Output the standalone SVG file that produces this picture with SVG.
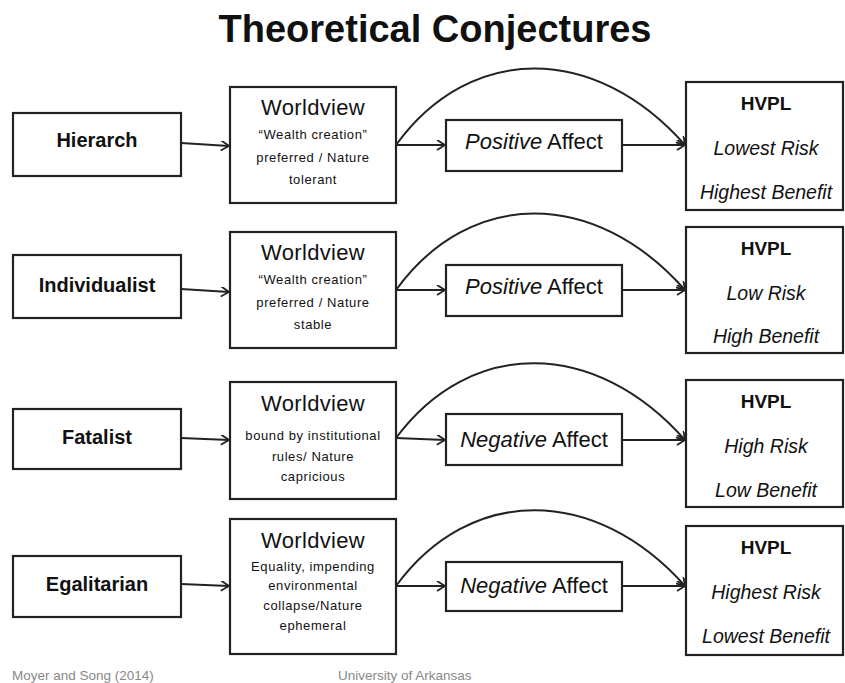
<svg xmlns="http://www.w3.org/2000/svg" width="845" height="683" viewBox="0 0 845 683">
<defs>
<marker id="ah" markerWidth="12" markerHeight="12" refX="10" refY="5" orient="auto" markerUnits="userSpaceOnUse">
<path d="M2,0 L10,5 L2,10" fill="none" stroke="#222" stroke-width="1.8"/>
</marker>
<style>
.box{fill:#fff;stroke:#222;stroke-width:2.2}
.con{fill:none;stroke:#222;stroke-width:2;marker-end:url(#ah)}
text{font-family:"Liberation Sans",Arial,sans-serif;fill:#111;text-anchor:middle}
.lab{font-size:20px;font-weight:bold}
.wv{font-size:22px;letter-spacing:0.3px}
.sub{font-size:13px;letter-spacing:0.6px}
.aff{font-size:22px}
.h{font-size:19px;font-weight:bold}
.hi{font-size:19.5px;font-style:italic}
.foot{font-size:13.5px;fill:#888;text-anchor:start}
</style>
</defs>
<rect width="845" height="683" fill="#fff"/>
<text x="435" y="42" style="font-size:38px;font-weight:bold">Theoretical Conjectures</text>

<g id="connectors">
<path class="con" d="M181,143 L229,146"/>
<path class="con" d="M396,145 L445,145"/>
<path class="con" d="M622,145 L685,145"/>
<path class="con" d="M396,145 C470,43 595,43 685,145"/>

<path class="con" d="M181,289 L229,292"/>
<path class="con" d="M396,290 L445,290"/>
<path class="con" d="M622,290 L685,290"/>
<path class="con" d="M396,290 C470,188 595,188 685,290"/>

<path class="con" d="M181,438 L229,440"/>
<path class="con" d="M396,438 L445,440"/>
<path class="con" d="M622,440 L685,440"/>
<path class="con" d="M396,438 C470,338 595,338 685,440"/>

<path class="con" d="M181,584 L229,586"/>
<path class="con" d="M396,586 L445,586"/>
<path class="con" d="M622,586 L685,586"/>
<path class="con" d="M396,586 C470,485 595,485 685,586"/>
</g>

<g id="hierarch"><rect class="box" x="13" y="113" width="168" height="63"/><text class="lab" x="97" y="147">Hierarch</text></g>
<g id="wv1"><rect class="box" x="230" y="87" width="166" height="116"/>
<text class="wv" x="313" y="115">Worldview</text>
<text class="sub" x="313" y="139">“Wealth creation”</text>
<text class="sub" x="313" y="162">preferred / Nature</text>
<text class="sub" x="313" y="184">tolerant</text></g>
<g id="aff1"><rect class="box" x="446" y="120" width="176" height="51"/><text class="aff" x="534" y="149"><tspan font-style="italic">Positive</tspan> Affect</text></g>
<g id="hvpl1"><rect class="box" x="686" y="82" width="157" height="128"/>
<text class="h" x="766" y="110">HVPL</text><text class="hi" x="766" y="155">Lowest Risk</text><text class="hi" x="766" y="199">Highest Benefit</text></g>

<g id="individualist"><rect class="box" x="13" y="255" width="168" height="63"/><text class="lab" x="97" y="292">Individualist</text></g>
<g id="wv2"><rect class="box" x="230" y="232" width="166" height="116"/>
<text class="wv" x="313" y="260">Worldview</text>
<text class="sub" x="313" y="284">“Wealth creation”</text>
<text class="sub" x="313" y="307">preferred / Nature</text>
<text class="sub" x="313" y="329">stable</text></g>
<g id="aff2"><rect class="box" x="446" y="265" width="176" height="51"/><text class="aff" x="534" y="294"><tspan font-style="italic">Positive</tspan> Affect</text></g>
<g id="hvpl2"><rect class="box" x="686" y="227" width="157" height="126"/>
<text class="h" x="766" y="255">HVPL</text><text class="hi" x="766" y="300">Low Risk</text><text class="hi" x="766" y="343">High Benefit</text></g>

<g id="fatalist"><rect class="box" x="13" y="409" width="168" height="60"/><text class="lab" x="97" y="444">Fatalist</text></g>
<g id="wv3"><rect class="box" x="230" y="382" width="166" height="117"/>
<text class="wv" x="313" y="411">Worldview</text>
<text class="sub" x="313" y="440">bound by institutional</text>
<text class="sub" x="313" y="461">rules/ Nature</text>
<text class="sub" x="313" y="481">capricious</text></g>
<g id="aff3"><rect class="box" x="446" y="414" width="176" height="51"/><text class="aff" x="534" y="447"><tspan font-style="italic">Negative</tspan> Affect</text></g>
<g id="hvpl3"><rect class="box" x="686" y="380" width="157" height="127"/>
<text class="h" x="766" y="408">HVPL</text><text class="hi" x="766" y="453">High Risk</text><text class="hi" x="766" y="497">Low Benefit</text></g>

<g id="egalitarian"><rect class="box" x="13" y="556" width="168" height="61"/><text class="lab" x="97" y="591">Egalitarian</text></g>
<g id="wv4"><rect class="box" x="230" y="519" width="166" height="135"/>
<text class="wv" x="313" y="548">Worldview</text>
<text class="sub" x="313" y="571">Equality, impending</text>
<text class="sub" x="313" y="590">environmental</text>
<text class="sub" x="313" y="610">collapse/Nature</text>
<text class="sub" x="313" y="630">ephemeral</text></g>
<g id="aff4"><rect class="box" x="446" y="562" width="176" height="49"/><text class="aff" x="534" y="593"><tspan font-style="italic">Negative</tspan> Affect</text></g>
<g id="hvpl4"><rect class="box" x="686" y="526" width="157" height="129"/>
<text class="h" x="766" y="554">HVPL</text><text class="hi" x="766" y="599">Highest Risk</text><text class="hi" x="766" y="643">Lowest Benefit</text></g>

<text class="foot" x="12" y="680">Moyer and Song (2014)</text>
<text class="foot" x="338" y="680">University of Arkansas</text>
</svg>
